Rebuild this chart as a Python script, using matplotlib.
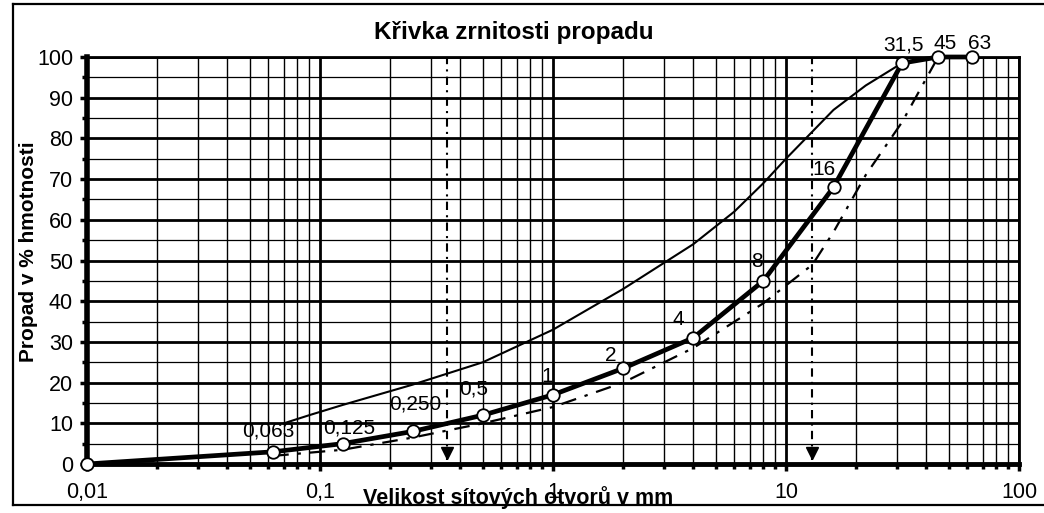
import matplotlib
matplotlib.use("Agg")
import matplotlib.pyplot as plt
from matplotlib.ticker import FixedLocator, NullFormatter
from matplotlib.lines import Line2D

plt.rcParams['font.family'] = ['Liberation Sans', 'DejaVu Sans']

# sítová křivka (tlustá čára s body)
sita = [0.01, 0.063, 0.125, 0.25, 0.5, 1, 2, 4, 8, 16, 31.5, 45, 63]
propad = [0, 3, 5, 8, 12, 17, 23.5, 31, 45, 68, 98.5, 100, 100]
popisky = ["", "0,063", "0,125", "0,250", "0,5", "1", "2", "4", "8", "16", "31,5", "45", "63"]

# horní mezní křivka (tenká)
horni_x = [0.07, 0.09, 0.125, 0.25, 0.5, 1, 2, 4, 6, 8, 10, 16, 22, 31.5]
horni_y = [10, 12, 14.5, 19.5, 25, 33, 43, 54, 62, 69, 75, 87, 93, 98.5]

# dolní mezní křivka (čerchovaná)
dolni_x = [0.063, 0.125, 0.25, 0.5, 1, 2, 4, 8, 13, 16, 22, 31.5, 45]
dolni_y = [2, 3.5, 6.5, 10, 14, 20, 28.5, 39.5, 49, 57, 71, 84, 100]

# svislé odečtové čáry
svisle = [0.35, 13]

# posuny popisků bodů v pixelech (styl)
posuny = [(0, 0), (-5, 21), (7, 16), (3, 27), (-9, 26), (-6, 18), (-12, 13),
          (-15, 18), (-6, 19), (-10, 18), (1, 18), (7, 13), (7, 13)]

fig = plt.figure(figsize=(10.44, 5.13), dpi=100)
ax = fig.add_axes([0.0833, 0.0955, 0.8927, 0.7934])

ax.set_xscale('log')
ax.set_xlim(0.01, 100)
ax.set_ylim(0, 100)

# mřížka
majx = [0.01, 0.1, 1, 10, 100]
minx = [m * d for d in [0.01, 0.1, 1, 10] for m in range(2, 10)]
ax.xaxis.set_major_locator(FixedLocator(majx))
ax.xaxis.set_minor_locator(FixedLocator(minx))
ax.xaxis.set_minor_formatter(NullFormatter())
ax.set_xticklabels(["0,01", "0,1", "1", "10", "100"])
ax.yaxis.set_major_locator(FixedLocator(range(0, 101, 10)))
ax.yaxis.set_minor_locator(FixedLocator(range(5, 100, 10)))

ax.grid(which='major', axis='x', color='black', lw=2.0)
ax.grid(which='minor', axis='x', color='black', lw=1.0)
ax.grid(which='major', axis='y', color='black', lw=2.0)
ax.grid(which='minor', axis='y', color='black', lw=0.9)
ax.set_axisbelow(True)

ax.tick_params(axis='both', which='major', labelsize=15.5, width=2.5, length=5, color='black')
ax.tick_params(axis='both', which='minor', width=2.5, length=3.5)
ax.tick_params(axis='x', which='major', pad=8)
ax.tick_params(axis='y', which='major', pad=5)

ax.spines['left'].set_linewidth(4)
ax.spines['bottom'].set_linewidth(3.5)
ax.spines['top'].set_linewidth(2)
ax.spines['right'].set_linewidth(2)

# křivky
ax.plot(horni_x, horni_y, color='black', lw=1.5, zorder=3)
ax.plot(dolni_x, dolni_y, color='black', lw=1.6, ls=(0, (7, 4, 1.5, 4)), zorder=3)
ax.plot(sita, propad, color='black', lw=3.4, zorder=4,
        marker='o', markersize=9, markerfacecolor='white',
        markeredgecolor='black', markeredgewidth=1.3, clip_on=False)

for x, y, t, (dx, dy) in zip(sita, propad, popisky, posuny):
    if t:
        ax.annotate(t, (x, y), xytext=(dx, dy), textcoords='offset pixels',
                    ha='center', va='center', fontsize=15, zorder=5,
                    annotation_clip=False)

for x in svisle:
    ax.plot([x, x], [1, 100], color='black', lw=1.5, ls=(0, (4, 2.5, 1, 2.5)), zorder=3)
    ax.plot([x], [2.6], marker='v', color='black', markersize=9, zorder=4)

fig.text(0.492, 0.937, "Křivka zrnitosti propadu", ha='center', va='center',
         fontsize=17.5, fontweight='bold')
fig.text(0.496, 0.03, "Velikost sítových otvorů v mm", ha='center', va='center',
         fontsize=15.5, fontweight='bold')
fig.text(0.027, 0.51, "Propad v % hmotnosti", ha='center', va='center',
         rotation=90, fontsize=15, fontweight='bold')

# rámeček kolem grafu
fig.add_artist(Line2D([0.0125, 0.0125], [0.016, 0.992], color='black', lw=1.6))
fig.add_artist(Line2D([0.0125, 1.0], [0.992, 0.992], color='black', lw=1.6))
fig.add_artist(Line2D([0.0125, 1.0], [0.016, 0.016], color='black', lw=1.6))

fig.savefig("out.png", dpi=100)
